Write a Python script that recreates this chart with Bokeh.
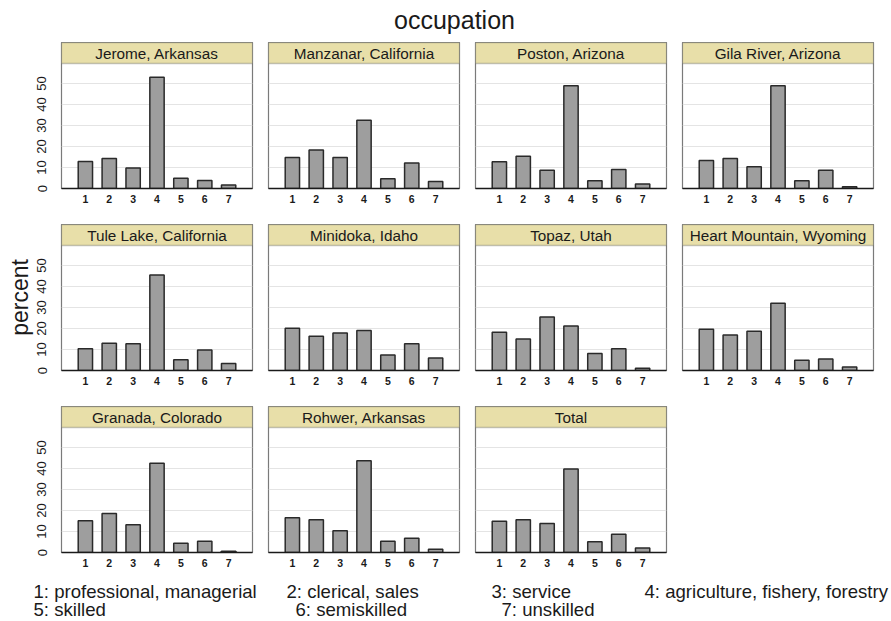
from bokeh.plotting import figure
from bokeh.layouts import column, row
from bokeh.models import Spacer, Range1d, FixedTicker, Label, BoxAnnotation
from bokeh.embed import file_html
from bokeh.resources import INLINE

# ---------------- data ----------------
occupation_codes = [1, 2, 3, 4, 5, 6, 7]
tick_labels = ["1", "2", "3", "4", "5", "6", "7"]
y_ticks = [0, 10, 20, 30, 40, 50]
grid_ticks = [10, 20, 30, 40, 50]

camps = ["Jerome, Arkansas", "Manzanar, California", "Poston, Arizona", "Gila River, Arizona",
         "Tule Lake, California", "Minidoka, Idaho", "Topaz, Utah", "Heart Mountain, Wyoming",
         "Granada, Colorado", "Rohwer, Arkansas", "Total"]

jerome = [12.9, 14.3, 9.8, 53.0, 4.9, 3.8, 1.7]
manzanar = [14.8, 18.3, 14.8, 32.5, 4.6, 12.1, 3.3]
poston = [12.7, 15.4, 8.7, 48.9, 3.7, 9.0, 2.1]
gila_river = [13.3, 14.3, 10.3, 48.9, 3.7, 8.7, 0.8]
tule_lake = [10.3, 13.0, 12.7, 45.4, 5.1, 9.7, 3.3]
minidoka = [20.1, 16.3, 17.9, 19.0, 7.4, 12.7, 6.0]
topaz = [18.2, 15.0, 25.5, 21.2, 8.1, 10.4, 1.1]
heart_mountain = [19.6, 16.9, 18.7, 32.0, 4.9, 5.5, 1.7]
granada = [15.1, 18.6, 13.2, 42.5, 4.4, 5.4, 0.6]
rohwer = [16.5, 15.6, 10.3, 43.7, 5.4, 6.8, 1.6]
total = [14.9, 15.6, 13.8, 39.7, 5.1, 8.7, 2.2]

series = [jerome, manzanar, poston, gila_river, tule_lake, minidoka, topaz,
          heart_mountain, granada, rohwer, total]

legend_col1 = ["1: professional, managerial", "5: skilled"]
legend_col2 = ["2: clerical, sales", "6: semiskilled"]
legend_col3 = ["3: service", "7: unskilled"]
legend_col4 = ["4: agriculture, fishery, forestry"]

main_title = "occupation"
y_label = "percent"

# ---------------- style ----------------
FONT = "Liberation Sans"
HEADER = "#e8dfa9"
BAR_FILL = "#9e9e9e"
BAR_LINE = "#2a2a2a"
TEXT = "#1a1a1a"
FRAME_W = 191
PLOT_H = 125          # bar area height in px
HEAD_H = 21           # strip header height in px
Y_MAX = 59.5          # value at top of bar area
Y_TOP = Y_MAX * (PLOT_H + HEAD_H) / PLOT_H
X_MAX = 8
TOTAL_W = 890


def make_panel(name, vals, show_y, bottom, ylab=None):
    left = 61 if show_y else 8
    p = figure(width=left + FRAME_W + 8, height=HEAD_H + PLOT_H + bottom,
               x_range=Range1d(0, X_MAX), y_range=Range1d(0, Y_TOP),
               output_backend="svg", toolbar_location=None, title=None,
               min_border_left=left, min_border_right=8,
               min_border_top=0, min_border_bottom=bottom,
               y_axis_location="left" if show_y else None,
               background_fill_color="white", border_fill_color="white")
    p.outline_line_color = "#7a7a7a"
    p.outline_line_width = 1.2
    p.xgrid.visible = False
    p.ygrid.ticker = FixedTicker(ticks=grid_ticks)
    p.ygrid.grid_line_color = "#e4e4e4"
    p.ygrid.grid_line_width = 1

    xa = p.xaxis[0]
    xa.ticker = FixedTicker(ticks=occupation_codes)
    xa.major_label_overrides = {c: t for c, t in zip(occupation_codes, tick_labels)}
    xa.axis_line_color = "#1a1a1a"
    xa.axis_line_width = 1.6
    xa.major_tick_line_color = None
    xa.major_tick_out = 0
    xa.major_tick_in = 0
    xa.minor_tick_line_color = None
    xa.major_label_standoff = 6
    xa.major_label_text_font = FONT
    xa.major_label_text_font_size = "10.5px"
    xa.major_label_text_font_style = "bold"
    xa.major_label_text_color = TEXT

    if show_y:
        ya = p.yaxis[0]
        ya.ticker = FixedTicker(ticks=y_ticks)
        ya.axis_line_color = None
        ya.major_tick_line_color = None
        ya.major_tick_out = 0
        ya.major_tick_in = 0
        ya.minor_tick_line_color = None
        ya.major_label_orientation = "vertical"
        ya.major_label_standoff = 15
        ya.major_label_text_font = FONT
        ya.major_label_text_font_size = "13px"
        ya.major_label_text_color = TEXT
        if ylab:
            ya.axis_label = ylab
            ya.axis_label_standoff = 2
            ya.axis_label_text_font = FONT
            ya.axis_label_text_font_size = "23px"
            ya.axis_label_text_font_style = "normal"
            ya.axis_label_text_color = TEXT

    p.vbar(x=occupation_codes, top=vals, width=0.6, bottom=0,
           fill_color=BAR_FILL, line_color=BAR_LINE, line_width=1.5)

    # strip header
    p.add_layout(BoxAnnotation(bottom=Y_MAX, fill_color=HEADER, fill_alpha=1.0,
                               line_color="#4a4a4a", line_width=1.3))
    p.add_layout(Label(x=X_MAX / 2, y=(Y_MAX + Y_TOP) / 2, text=name, text_font=FONT,
                       text_font_size="15.3px", text_align="center",
                       text_baseline="middle", text_color=TEXT))
    return p


def text_strip(height, labels):
    p = figure(width=TOTAL_W, height=height, x_range=Range1d(0, TOTAL_W), y_range=Range1d(0, height),
               output_backend="svg", toolbar_location=None, title=None,
               x_axis_location=None, y_axis_location=None, min_border=0,
               outline_line_color=None)
    p.grid.visible = False
    for (x, y, txt, size, align, base) in labels:
        p.add_layout(Label(x=x, y=y, text=txt, text_font=FONT, text_font_size=size,
                           text_align=align, text_baseline=base, text_color=TEXT))
    return p


title_h = 42
title_fig = text_strip(title_h, [(454, title_h - 19, main_title, "25px", "center", "middle")])

rows = []
for r in range(3):
    figs = []
    for c in range(4):
        i = r * 4 + c
        if i >= len(camps):
            figs.append(Spacer(width=FRAME_W + 16, height=10))
            continue
        bottom = 36 if r < 2 else 20
        ylab = y_label if (r == 1 and c == 0) else None
        figs.append(make_panel(camps[i], series[i], c == 0, bottom, ylab))
    rows.append(row(*figs, spacing=0))

leg_h = 48
LS = "18.6px"
legend_items = [
    (33, leg_h - 19, legend_col1[0], LS, "left", "middle"),
    (33, leg_h - 37, legend_col1[1], LS, "left", "middle"),
    (286, leg_h - 19, legend_col2[0], LS, "left", "middle"),
    (295, leg_h - 37, legend_col2[1], LS, "left", "middle"),
    (491, leg_h - 19, legend_col3[0], LS, "left", "middle"),
    (501, leg_h - 37, legend_col3[1], LS, "left", "middle"),
    (644, leg_h - 19, legend_col4[0], LS, "left", "middle"),
]
legend_fig = text_strip(leg_h, legend_items)

layout = column(title_fig, *rows, legend_fig, spacing=0)

open("out.html", "w").write(file_html(layout, INLINE))
